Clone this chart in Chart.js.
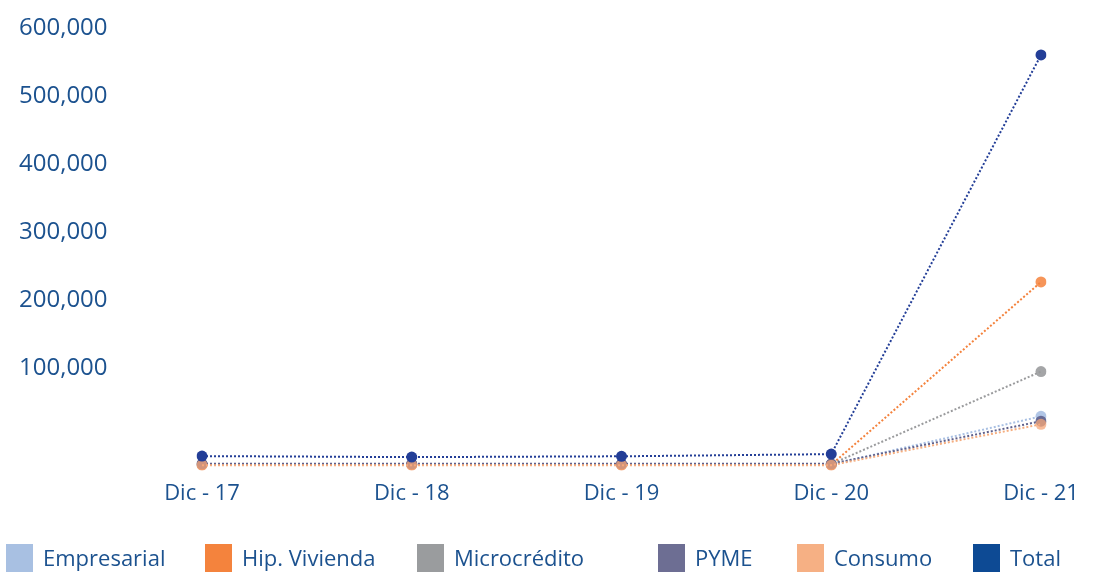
<!DOCTYPE html>
<html>
<head>
<meta charset="utf-8">
<script src="https://cdn.jsdelivr.net/npm/chart.js@4.4.0/dist/chart.umd.min.js"></script>
<style>
  html, body { margin: 0; padding: 0; background: #ffffff; }
  #wrap { width: 1097px; height: 586px; position: relative; font-family: 'Open Sans', sans-serif; }
  #c { position: absolute; left: 0; top: 0; }
  #legend { position: absolute; left: 6px; top: 543px; height: 29px; display: flex; align-items: center; }
  .item { display: flex; align-items: center; height: 29px; }
  .box { width: 27px; height: 28px; margin-right: 10px; flex: none; }
  .txt { font-size: 22px; color: #1c528f; line-height: 29px; white-space: nowrap; }
</style>
</head>
<body>
<div id="wrap"><canvas id="c" width="1097" height="586"></canvas><div id="legend"></div></div>
<script>
const categories = ["Dic - 17", "Dic - 18", "Dic - 19", "Dic - 20", "Dic - 21"];
const seriesNames = ["Empresarial", "Hip. Vivienda", "Microcrédito", "PYME", "Consumo", "Total"];
const empresarial = [-41000, -41000, -41000, -41000, 29700];
const hipVivienda = [-41500, -41500, -41500, -41500, 227000];
const microcredito = [-40500, -40500, -40500, -40500, 95500];
const pyme = [-40000, -40000, -40000, -40000, 22500];
const consumo = [-42000, -42000, -42000, -42000, 18000];
const total = [-28700, -30200, -29000, -25800, 560500];
const yTickValues = [100000, 200000, 300000, 400000, 500000, 600000];

const lineColors = ["#a9c0e3", "#f4823c", "#9a9b9d", "#5f618c", "#f5ae80", "#233e97"];
const pointColors = ["rgba(169,192,227,0.9)", "rgba(244,130,60,0.85)", "rgba(154,155,157,0.9)", "rgba(95,97,140,0.9)", "rgba(245,166,120,0.75)", "#233e97"];
const legendColors = ["#a8c0e2", "#f4833d", "#9a9c9e", "#6d6e93", "#f6b084", "#0d4a94"];
const drawOrder = [5, 3, 4, 2, 1, 0];
const legendItemWidths = [199, 212, 241, 139, 176, 124];
const seriesValues = [empresarial, hipVivienda, microcredito, pyme, consumo, total];

const textColor = "#1c528f";
const fontFamily = "'Open Sans', sans-serif";

const datasets = seriesNames.map((name, i) => ({
  label: name,
  data: seriesValues[i],
  borderColor: lineColors[i],
  backgroundColor: legendColors[i],
  pointBackgroundColor: pointColors[i],
  pointBorderColor: pointColors[i],
  pointRadius: 5.5,
  pointBorderWidth: 0,
  borderWidth: 2,
  borderDash: [2, 2],
  fill: false,
  tension: 0,
  order: drawOrder[i]
}));

const chart = new Chart(document.getElementById("c"), {
  type: "line",
  data: { labels: categories, datasets },
  options: {
    responsive: false,
    animation: false,
    devicePixelRatio: 1,
    layout: { padding: { left: 19, right: 0, top: 28, bottom: 77 } },
    plugins: {
      tooltip: { enabled: false },
      legend: { display: false }
    },
    scales: {
      x: {
        offset: false,
        grid: { display: false },
        border: { display: false },
        afterFit: (scale) => { scale.paddingRight = 56; },
        ticks: {
          color: textColor,
          font: { family: fontFamily, size: 22 },
          padding: 2,
          maxRotation: 0
        }
      },
      y: {
        min: -50000,
        max: 600000,
        grid: { display: false },
        border: { display: false },
        afterBuildTicks: (scale) => {
          scale.ticks = [-50000].concat(yTickValues).map(v => ({ value: v }));
        },
        afterFit: (scale) => { scale.width = 183; },
        ticks: {
          color: textColor,
          crossAlign: "far",
          font: { family: fontFamily, size: 24 },
          callback: (v) => yTickValues.includes(v) ? v.toLocaleString("en-US") : ""
        }
      }
    }
  }
});

// HTML legend built from the chart's datasets
const legendEl = document.getElementById("legend");
chart.data.datasets.forEach((ds, i) => {
  const item = document.createElement("div");
  item.className = "item";
  item.style.width = legendItemWidths[i] + "px";
  const box = document.createElement("span");
  box.className = "box";
  box.style.background = legendColors[i];
  const txt = document.createElement("span");
  txt.className = "txt";
  txt.textContent = ds.label;
  item.appendChild(box);
  item.appendChild(txt);
  legendEl.appendChild(item);
});
</script>
</body>
</html>
